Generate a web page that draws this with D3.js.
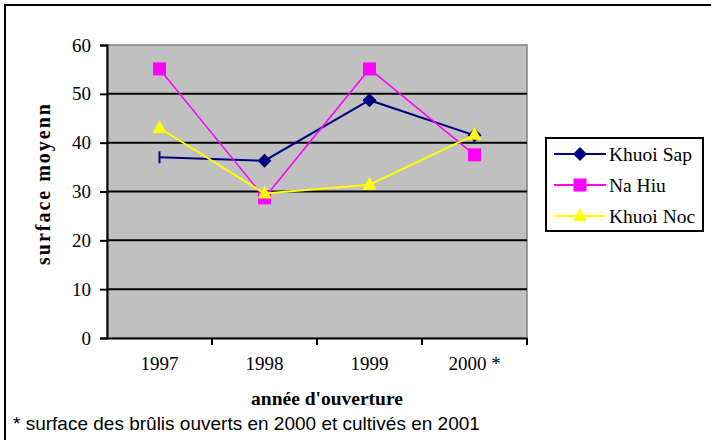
<!DOCTYPE html>
<html>
<head>
<meta charset="utf-8">
<script src="https://cdn.jsdelivr.net/npm/d3@7"></script>
<style>
  body { margin: 0; background: #fff; }
  svg { display: block; }
</style>
</head>
<body>
<svg id="chart"></svg>
<script>
var width = 711
var height = 440

// data
var years = ["1997", "1998", "1999", "2000 *"]
var seriesNames = ["Khuoi Sap", "Na Hiu", "Khuoi Noc"]
var khuoiSap = [37, 36.3, 48.7, 41.5]
var naHiu = [55.1, 28.7, 55.1, 37.5]
var khuoiNoc = [43, 29.6, 31.4, 41.6]
var yTicks = [0, 10, 20, 30, 40, 50, 60]

var colors = ["#000080", "#ff00ff", "#ffff00"]
var markers = ["diamond", "square", "triangle"]
var allSeries = [khuoiSap, naHiu, khuoiNoc]

var plot = {left: 107, right: 527, top: 45, bottom: 338}

var svg = d3.select("#chart")
  .attr("width", width)
  .attr("height", height)

// outer frame (cut off at right and bottom like the original)
svg.append("rect")
  .attr("x", 5).attr("y", 5)
  .attr("width", width + 10).attr("height", height + 10)
  .attr("fill", "none").attr("stroke", "#000").attr("stroke-width", 2)

var x = d3.scaleBand()
  .domain(years)
  .range([plot.left, plot.right])

var y = d3.scaleLinear()
  .domain([0, 60])
  .range([plot.bottom, plot.top])

// plot background
svg.append("rect")
  .attr("x", plot.left).attr("y", plot.top)
  .attr("width", plot.right - plot.left).attr("height", plot.bottom - plot.top)
  .attr("fill", "#c0c0c0")
  .attr("stroke", "#808080").attr("stroke-width", 1.5)

// gridlines
svg.append("g")
  .selectAll("line")
  .data(yTicks.filter(d => d > 0 && d < 60))
  .enter()
  .append("line")
    .attr("x1", plot.left).attr("x2", plot.right)
    .attr("y1", d => y(d)).attr("y2", d => y(d))
    .attr("stroke", "#000").attr("stroke-width", 2)

// y axis
var yAxis = svg.append("g")
  .attr("transform", "translate(" + plot.left + ",0)")
  .call(d3.axisLeft(y).tickValues(yTicks).tickSize(7).tickPadding(9))
yAxis.select(".domain").attr("stroke", "#000").attr("stroke-width", 2)
yAxis.selectAll(".tick line").attr("stroke", "#000").attr("stroke-width", 2)
yAxis.selectAll(".tick text")
  .attr("font-family", "Liberation Serif")
  .attr("font-size", 19)
  .attr("fill", "#000")

// x axis: ticks between categories
var xAxis = svg.append("g")
  .attr("transform", "translate(0," + plot.bottom + ")")
  .call(d3.axisBottom(x).tickSize(0).tickPadding(19))
xAxis.select(".domain").attr("stroke", "#000").attr("stroke-width", 2)
xAxis.selectAll(".tick text")
  .attr("font-family", "Liberation Serif")
  .attr("font-size", 19)
  .attr("fill", "#000")
xAxis.selectAll(".boundary")
  .data(years)
  .enter()
  .append("line")
    .attr("x1", d => x(d) + x.bandwidth())
    .attr("x2", d => x(d) + x.bandwidth())
    .attr("y1", 0).attr("y2", 7)
    .attr("stroke", "#000").attr("stroke-width", 2)

// axis titles
svg.append("text")
  .attr("transform", "translate(50," + ((plot.top + plot.bottom) / 2 - 8) + ") rotate(-90)")
  .attr("text-anchor", "middle")
  .attr("font-family", "Liberation Serif")
  .attr("font-weight", "bold")
  .attr("font-size", 20)
  .attr("letter-spacing", 2)
  .text("surface moyenn")

svg.append("text")
  .attr("x", (plot.left + plot.right) / 2 + 10)
  .attr("y", 405)
  .attr("text-anchor", "middle")
  .attr("font-family", "Liberation Serif")
  .attr("font-weight", "bold")
  .attr("font-size", 19.5)
  .text("année d'ouverture")

svg.append("text")
  .attr("x", 13)
  .attr("y", 430)
  .attr("font-family", "Liberation Sans")
  .attr("font-size", 19)
  .text("* surface des brûlis ouverts en 2000 et cultivés en 2001")

function drawMarker(g, type, color, cx, cy) {
  if (type === "diamond") {
    g.append("path")
      .attr("d", "M" + cx + "," + (cy - 7) + "L" + (cx + 7) + "," + cy + "L" + cx + "," + (cy + 7) + "L" + (cx - 7) + "," + cy + "Z")
      .attr("fill", color)
  } else if (type === "square") {
    g.append("rect")
      .attr("x", cx - 6.5).attr("y", cy - 6.5)
      .attr("width", 13).attr("height", 13)
      .attr("fill", color)
  } else if (type === "triangle") {
    g.append("path")
      .attr("d", "M" + cx + "," + (cy - 8) + "L" + (cx + 7) + "," + (cy + 5) + "L" + (cx - 7) + "," + (cy + 5) + "Z")
      .attr("fill", color)
  } else if (type === "bar") {
    g.append("line")
      .attr("x1", cx).attr("x2", cx)
      .attr("y1", cy - 6).attr("y2", cy + 6)
      .attr("stroke", color).attr("stroke-width", 2)
  }
}

var line = d3.line()
  .x((d, i) => x(years[i]) + x.bandwidth() / 2)
  .y(d => y(d))

allSeries.forEach(function(values, s) {
  var g = svg.append("g")
  g.append("path")
    .attr("d", line(values))
    .attr("fill", "none")
    .attr("stroke", colors[s])
    .attr("stroke-width", s === 1 ? 1.5 : 2)
  values.forEach(function(v, i) {
    var type = markers[s]
    // first Khuoi Sap point shows as a bar end in the original
    if (s === 0 && i === 0) type = "bar"
    drawMarker(g, type, colors[s], x(years[i]) + x.bandwidth() / 2, y(v))
  })
})

// legend
var legend = svg.append("g")
legend.append("rect")
  .attr("x", 546).attr("y", 138)
  .attr("width", 157).attr("height", 93)
  .attr("fill", "#fff").attr("stroke", "#000").attr("stroke-width", 2)

var legendRows = legend.selectAll(".row")
  .data(seriesNames)
  .enter()
  .append("g")
    .attr("transform", (d, i) => "translate(0," + (154 + i * 31) + ")")

legendRows.append("line")
  .attr("x1", 554).attr("x2", 606)
  .attr("y1", 0).attr("y2", 0)
  .attr("stroke", (d, i) => colors[i])
  .attr("stroke-width", 2)

legendRows.each(function(d, i) {
  drawMarker(d3.select(this), markers[i], colors[i], 580, 0)
})

legendRows.append("text")
  .attr("x", 609).attr("y", 7)
  .attr("font-family", "Liberation Serif")
  .attr("font-size", 19.5)
  .text(d => d)
</script>
</body>
</html>
